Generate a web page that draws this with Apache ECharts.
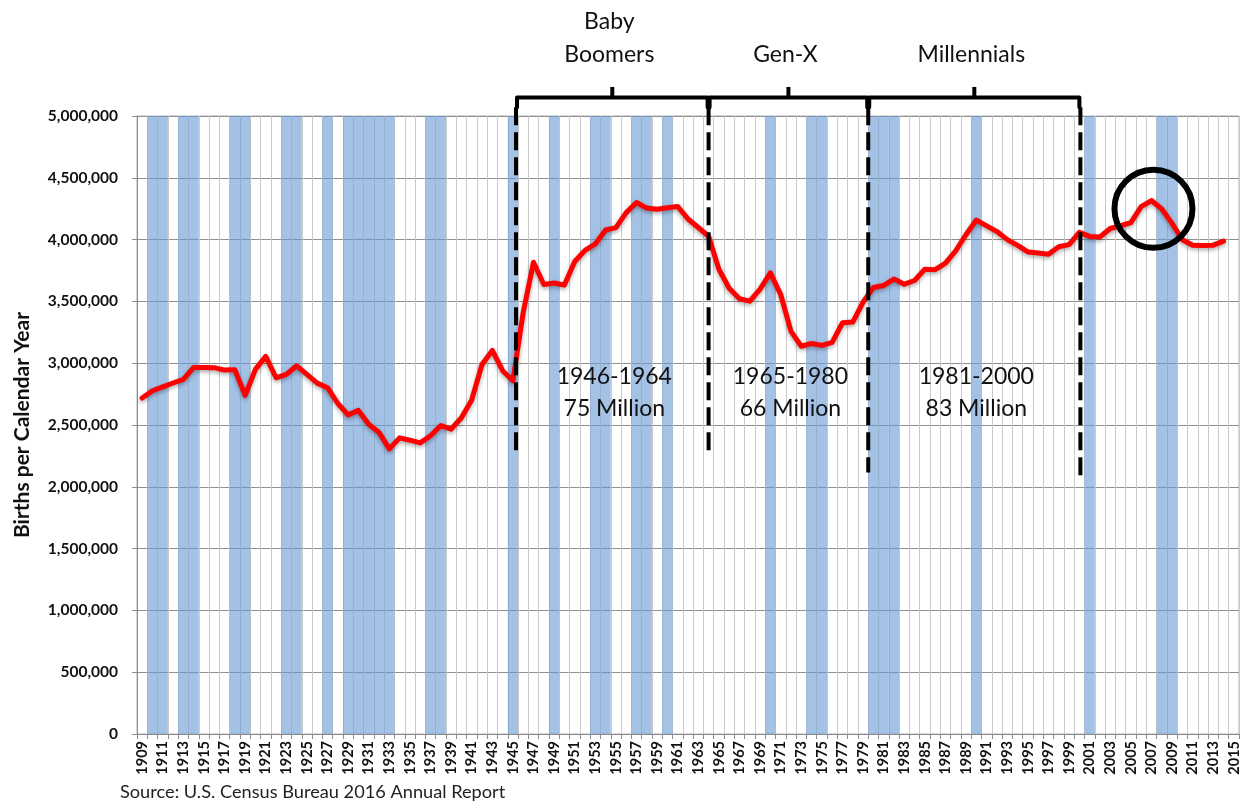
<!DOCTYPE html>
<html>
<head>
<meta charset="utf-8">
<script src="https://cdn.jsdelivr.net/npm/echarts@6/dist/echarts.min.js"></script>
<style>
  html, body { margin: 0; padding: 0; background: #fff; }
  #chart { width: 1245px; height: 810px; }
</style>
</head>
<body>
<div id="chart"></div>
<script>
// categories: one per calendar year
const firstYear = 1909, lastYear = 2015;
const years = [];
for (let y = firstYear; y <= lastYear; y++) years.push(String(y));

// births per calendar year, 1909-2014
const births = [
  2718000, 2777000, 2809000, 2840000, 2869000, 2966000, 2965000, 2964000, 2944000, 2948000,
  2740000, 2950000, 3055000, 2882000, 2910000, 2979000, 2909000, 2839000, 2802000, 2674000,
  2582000, 2618000, 2506000, 2440000, 2307000, 2396000, 2377000, 2355000, 2413000, 2496000,
  2466000, 2559000, 2703000, 2989000, 3104000, 2939000, 2858000, 3411000, 3817000, 3637000,
  3649000, 3632000, 3823000, 3913000, 3965000, 4078000, 4097000, 4218000, 4300000, 4255000,
  4245000, 4258000, 4268000, 4167000, 4098000, 4027000, 3760000, 3606000, 3521000, 3502000,
  3600000, 3731000, 3556000, 3258000, 3137000, 3160000, 3144000, 3168000, 3327000, 3333000,
  3494000, 3612000, 3629000, 3681000, 3639000, 3669000, 3761000, 3757000, 3809000, 3910000,
  4041000, 4158000, 4111000, 4065000, 4000000, 3953000, 3900000, 3891000, 3881000, 3942000,
  3959000, 4059000, 4026000, 4022000, 4090000, 4112000, 4138000, 4266000, 4316000, 4248000,
  4131000, 3999000, 3954000, 3953000, 3955000, 3988000
];

// shaded (recession) years
const recessionYears = [
  1910, 1911, 1913, 1914, 1918, 1919, 1923, 1924, 1927, 1929, 1930, 1931, 1932, 1933,
  1937, 1938, 1945, 1949, 1953, 1954, 1957, 1958, 1960, 1970, 1974, 1975,
  1980, 1981, 1982, 1990, 2001, 2008, 2009
];

const yMax = 5000000, yStep = 500000;

// generation annotations
const genNames = ['Baby\nBoomers', 'Gen-X', 'Millennials'];
const genEdges = [1945.3, 1964, 1979.5, 2000.1];
const genSpans = ['1946-1964', '1965-1980', '1981-2000'];
const genTotals = ['75 Million', '66 Million', '83 Million'];
const dashBottoms = [2250000, 2250000, 2115000, 2070000];
const peakYear = 2007, peakValue = 4250000;

const chart = echarts.init(document.getElementById('chart'));

const shade = years.map(y => recessionYears.indexOf(+y) >= 0 ? yMax : null);

chart.setOption({
  animation: false,
  backgroundColor: '#fff',
  grid: {
    left: 137, right: 6, top: 116, bottom: 76,
    show: true, borderColor: '#b4b4b4', borderWidth: 1
  },
  xAxis: {
    type: 'category',
    data: years,
    boundaryGap: true,
    axisLine: { lineStyle: { color: '#8c8c8c', width: 1 } },
    axisTick: { show: true, interval: 0, length: 5, lineStyle: { color: '#8c8c8c' } },
    axisLabel: {
      interval: 1, rotate: 90, margin: 7,
      fontFamily: 'Lato', fontWeight: 'bold', fontSize: 14.5, color: '#111'
    },
    splitLine: { show: true, interval: 0, lineStyle: { color: '#cacaca', width: 1 } }
  },
  yAxis: {
    type: 'value',
    min: 0, max: yMax, interval: yStep,
    name: 'Births per Calendar Year',
    nameLocation: 'middle',
    nameGap: 104,
    nameTextStyle: { fontFamily: 'Lato', fontWeight: 'bold', fontSize: 21, color: '#111' },
    axisLine: { show: true, lineStyle: { color: '#8c8c8c' } },
    axisTick: { show: true, length: 5, lineStyle: { color: '#8c8c8c' } },
    axisLabel: {
      margin: 19,
      fontFamily: 'Lato', fontWeight: 'bold', fontSize: 15.5, color: '#111',
      formatter: v => v.toLocaleString('en-US')
    },
    splitLine: { show: true, lineStyle: { color: '#8f8f8f', width: 1 } }
  },
  series: [
    {
      name: 'Recession',
      type: 'bar',
      data: shade,
      barCategoryGap: '0%',
      barGap: '0%',
      itemStyle: { color: 'rgba(103,153,213,0.6)' },
      z: 1
    },
    {
      name: 'Births',
      type: 'line',
      data: births,
      showSymbol: false,
      lineStyle: {
        color: '#ff0000', width: 5, cap: 'round', join: 'round',
        shadowColor: 'rgba(0,0,0,0.35)', shadowBlur: 4, shadowOffsetY: 2
      },
      z: 3
    }
  ]
});

// pixel helpers (fractional years allowed)
function xAt(yr) {
  const i = Math.floor(yr), f = yr - i;
  const p0 = chart.convertToPixel({ xAxisIndex: 0 }, String(i));
  const p1 = chart.convertToPixel({ xAxisIndex: 0 }, String(i + 1));
  return p0 + (p1 - p0) * f;
}
function yAt(v) { return chart.convertToPixel({ yAxisIndex: 0 }, v); }

const graphics = [];
const yBracket = yAt(5150000), yHook = yAt(5070000), yTick = yAt(5235000);
const yDashTop = yAt(5070000);
const annoFont = '23px Lato';

genEdges.forEach((yr, i) => {
  const x = xAt(yr);
  graphics.push({
    type: 'line',
    shape: { x1: x, y1: yDashTop, x2: x, y2: yAt(dashBottoms[i]) },
    style: { stroke: '#000', lineWidth: 4, lineDash: [18, 7] },
    z: 10
  });
});

for (let i = 0; i < genNames.length; i++) {
  const x1 = xAt(genEdges[i]), x2 = xAt(genEdges[i + 1]);
  const mid = (x1 + x2) / 2;
  graphics.push({
    type: 'polyline',
    shape: { points: [[x1 + 1, yHook], [x1 + 1, yBracket], [x2 - 1, yBracket], [x2 - 1, yHook]] },
    style: { stroke: '#000', lineWidth: 4, fill: null, lineJoin: 'round', lineCap: 'round' },
    z: 10
  });
  graphics.push({
    type: 'line',
    shape: { x1: mid, y1: yBracket, x2: mid, y2: yTick },
    style: { stroke: '#000', lineWidth: 4 },
    z: 10
  });
  graphics.push({
    type: 'text',
    x: mid - 3, y: yAt(5360000),
    style: {
      text: genNames[i], font: annoFont, fill: '#111',
      align: 'center', verticalAlign: 'bottom', lineHeight: 33
    },
    z: 10
  });
  graphics.push({
    type: 'text',
    x: mid + 2, y: yAt(2759000),
    style: {
      text: genSpans[i] + '\n' + genTotals[i], font: annoFont, fill: '#111',
      align: 'center', verticalAlign: 'middle', lineHeight: 32
    },
    z: 10
  });
}

graphics.push({
  type: 'circle',
  shape: { cx: xAt(peakYear) + 2, cy: yAt(peakValue), r: 39 },
  style: { stroke: '#000', lineWidth: 6, fill: null },
  z: 10
});

graphics.push({
  type: 'text',
  left: 120, top: 783,
  style: { text: 'Source: U.S. Census Bureau 2016 Annual Report', font: '18.2px Lato', fill: '#222' }
});

chart.setOption({ graphic: graphics });
</script>
</body>
</html>
